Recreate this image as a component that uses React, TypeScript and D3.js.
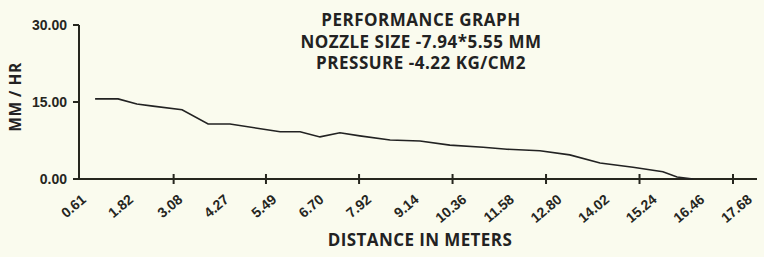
import React, { useEffect, useRef } from 'react';
import * as d3 from 'd3';

// distance (m) vs precipitation rate (mm/hr)
const distances = [1.03, 1.63, 2.12, 2.54, 3.3, 3.98, 4.55, 5.26, 5.86, 6.38, 6.9, 7.42, 7.94, 8.73, 9.51, 10.29, 11.16, 11.78, 12.64, 13.42, 14.21, 15.07, 15.85, 16.22, 16.64];
const rates = [15.6, 15.6, 14.6, 14.2, 13.5, 10.7, 10.7, 9.9, 9.2, 9.2, 8.2, 9.0, 8.4, 7.6, 7.4, 6.6, 6.2, 5.8, 5.5, 4.7, 3.1, 2.3, 1.4, 0.4, 0.0];

const xLabels = ['0.61', '1.82', '3.08', '4.27', '5.49', '6.70', '7.92', '9.14', '10.36', '11.58', '12.80', '14.02', '15.24', '16.46', '17.68'];
const yTicks = [0, 15, 30];
const titleLines = ['PERFORMANCE GRAPH', 'NOZZLE SIZE -7.94*5.55 MM', 'PRESSURE -4.22 KG/CM2'];

export default function App() {
  const svgRef = useRef<SVGSVGElement>(null);

  const width = 764;
  const height = 257;
  const margin = { top: 25, right: 7, bottom: 78, left: 79 };
  const innerHeight = height - margin.top - margin.bottom;

  useEffect(() => {
    const svg = d3.select(svgRef.current);
    svg.selectAll('*').remove();

    const labelFont = '"Liberation Sans", Arial, sans-serif';
    const titleFont = '"Open Sans", "DejaVu Sans", sans-serif';
    const ink = '#26261e';

    svg.append('rect').attr('width', width).attr('height', height).attr('fill', '#fafbee');

    const x = d3.scaleLinear().domain([0.61, 17.68]).range([0, 654]);
    // the printed labels drift a little to the right of their tick marks
    const xLab = d3.scaleLinear().domain([0.61, 17.68]).range([8, 674]);
    const y = d3.scaleLinear().domain([0, 30]).range([innerHeight, 0]);

    const g = svg.append('g').attr('transform', `translate(${margin.left}, ${margin.top})`);

    // x axis line
    g.append('line')
      .attr('x1', 0).attr('x2', 678)
      .attr('y1', innerHeight).attr('y2', innerHeight)
      .attr('stroke', ink).attr('stroke-width', 2);

    // y axis line
    g.append('line')
      .attr('x1', 0).attr('x2', 0)
      .attr('y1', 0).attr('y2', innerHeight)
      .attr('stroke', ink).attr('stroke-width', 2);

    // x ticks (every other label) and rotated labels
    xLabels.forEach((lab, i) => {
      const px = x(+lab);
      if (i % 2 === 0 && i > 0) {
        g.append('line')
          .attr('x1', px).attr('x2', px)
          .attr('y1', innerHeight - 5).attr('y2', innerHeight + 5)
          .attr('stroke', ink).attr('stroke-width', 2);
      }
      g.append('text')
        .attr('transform', `translate(${xLab(+lab)}, ${innerHeight + 22}) rotate(-40)`)
        .attr('text-anchor', 'end')
        .attr('font-family', labelFont)
        .attr('font-weight', 'bold')
        .attr('font-size', 14)
        .attr('fill', ink)
        .text(lab);
    });

    // y ticks
    yTicks.forEach(t => {
      g.append('line')
        .attr('x1', -6).attr('x2', 0)
        .attr('y1', y(t)).attr('y2', y(t))
        .attr('stroke', ink).attr('stroke-width', 2);
      g.append('text')
        .attr('x', -12).attr('y', y(t))
        .attr('dy', '0.35em')
        .attr('text-anchor', 'end')
        .attr('font-family', labelFont)
        .attr('font-weight', 'bold')
        .attr('font-size', 14)
        .attr('fill', ink)
        .text(t.toFixed(2));
    });

    // data line
    const line = d3.line<number>()
      .x((d, i) => x(distances[i]))
      .y(d => y(d));

    g.append('path')
      .datum(rates)
      .attr('d', line)
      .attr('fill', 'none')
      .attr('stroke', '#222')
      .attr('stroke-width', 1.6);

    // title
    const baselines = [26, 48, 69];
    titleLines.forEach((t, i) => {
      svg.append('text')
        .attr('x', 421).attr('y', baselines[i])
        .attr('text-anchor', 'middle')
        .attr('font-family', titleFont)
        .attr('font-weight', 'bold')
        .attr('font-size', 17)
        .attr('letter-spacing', 0.5)
        .attr('fill', '#222')
        .text(t);
    });

    // axis titles
    svg.append('text')
      .attr('x', 420).attr('y', 246)
      .attr('text-anchor', 'middle')
      .attr('font-family', titleFont)
      .attr('font-weight', 'bold')
      .attr('font-size', 17)
      .attr('letter-spacing', 0.4)
      .attr('fill', '#222')
      .text('DISTANCE IN METERS');

    svg.append('text')
      .attr('transform', 'translate(21, 97) rotate(-90)')
      .attr('text-anchor', 'middle')
      .attr('font-family', titleFont)
      .attr('font-weight', 'bold')
      .attr('font-size', 15.5)
      .attr('letter-spacing', 0.5)
      .attr('fill', '#222')
      .text('MM / HR');
  });

  return (
    <svg ref={svgRef} width={width} height={height} style={{ position: 'absolute', left: 0, top: 0 }}></svg>
  );
}
